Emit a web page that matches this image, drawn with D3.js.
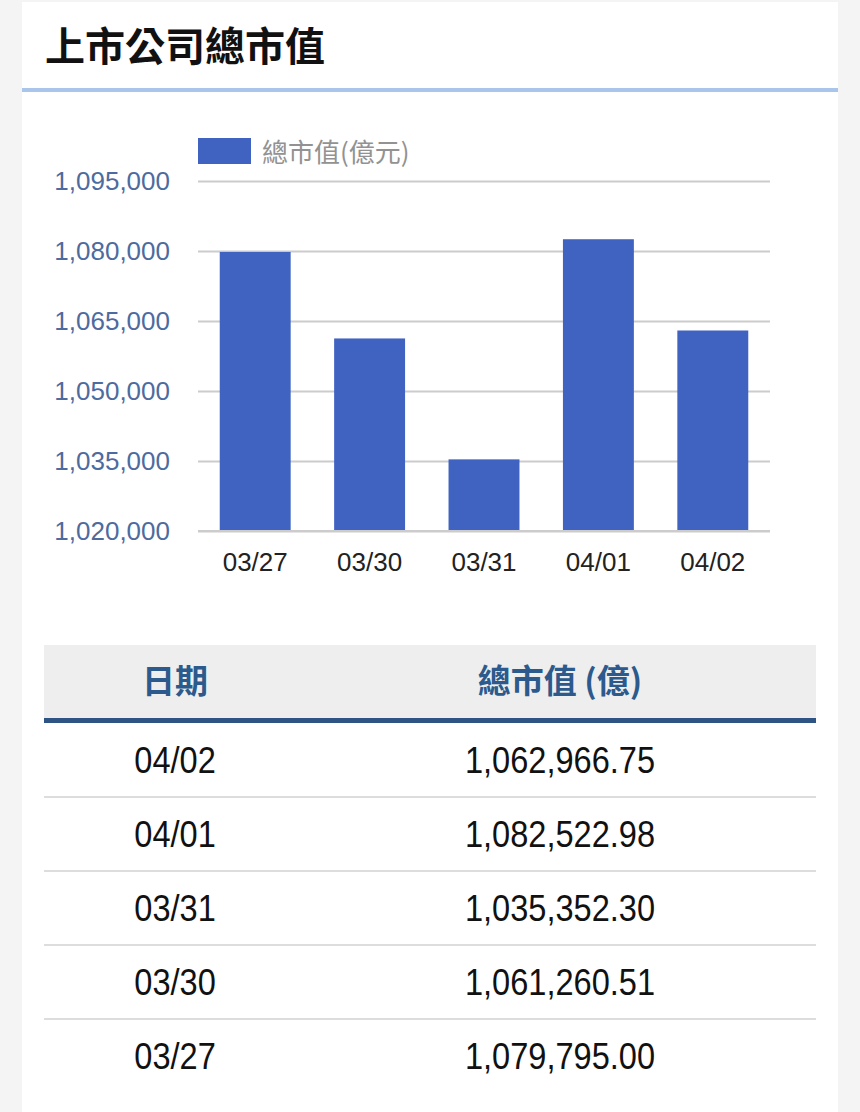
<!DOCTYPE html>
<html>
<head>
<meta charset="utf-8">
<script src="https://cdn.jsdelivr.net/npm/d3@7"></script>
<style>
  html, body { margin: 0; padding: 0; background: #f4f4f4; }
  svg { display: block; }
</style>
</head>
<body>
<svg id="chart"></svg>
<script>
// data
const dates = ['03/27', '03/30', '03/31', '04/01', '04/02']
const values = [1079795.00, 1061260.51, 1035352.30, 1082522.98, 1062966.75]
const yTicks = [1020000, 1035000, 1050000, 1065000, 1080000, 1095000]
const title = '上市公司總市值'
const seriesName = '總市值(億元)'
const tableHead = ['日期', '總市值 (億)']

const width = 860
const height = 1112
const barColor = '#4063c2'
const latin = '"Liberation Sans", Arial, sans-serif'
const cjk = '"Noto Sans CJK TC", "Noto Sans", sans-serif'

// set up svg container
const svg = d3.select('#chart')
    .attr('width', width)
    .attr('height', height)

// white card
svg.append('rect')
    .attr('x', 22).attr('y', 2)
    .attr('width', 816).attr('height', height)
    .attr('fill', '#fff')

svg.append('text')
    .attr('x', 45).attr('y', 61)
    .style('font-family', cjk)
    .style('font-weight', 700)
    .style('font-size', '40px')
    .attr('fill', '#111')
    .text(title)

svg.append('rect')
    .attr('x', 22).attr('y', 88)
    .attr('width', 816).attr('height', 4)
    .attr('fill', '#a9c5ea')

// set up chart
const x = d3.scaleBand()
    .domain(dates)
    .range([198, 770])
    .paddingInner(0.38)
    .paddingOuter(0.19)

const y = d3.scaleLinear()
    .domain([1020000, 1095000])
    .range([531, 181])

const yAxis = svg.append('g')
    .attr('transform', 'translate(198,0)')
    .call(d3.axisLeft(y).tickValues(yTicks).tickSize(-572).tickPadding(28).tickFormat(d3.format(',')))
yAxis.select('.domain').remove()
yAxis.selectAll('line').attr('stroke', '#cccccc').attr('stroke-width', 2)
yAxis.selectAll('text')
    .style('font-family', latin)
    .style('font-size', '26px')
    .attr('fill', '#4d6b9e')

svg.selectAll('.bar')
    .data(dates)
    .join('rect')
    .attr('class', 'bar')
    .attr('x', d => x(d))
    .attr('y', (d, i) => y(values[i]))
    .attr('width', x.bandwidth())
    .attr('height', (d, i) => y(1020000) - y(values[i]))
    .attr('fill', barColor)

// baseline drawn over the bars
svg.append('line')
    .attr('x1', 198).attr('x2', 770)
    .attr('y1', y(1020000)).attr('y2', y(1020000))
    .attr('stroke', '#cccccc').attr('stroke-width', 2)

const xAxis = svg.append('g')
    .attr('transform', `translate(0,${y(1020000)})`)
    .call(d3.axisBottom(x).tickSize(0).tickPadding(22))
xAxis.select('.domain').remove()
xAxis.selectAll('text')
    .style('font-family', latin)
    .style('font-size', '26px')
    .attr('fill', '#222')

// legend
svg.append('rect')
    .attr('x', 198).attr('y', 138)
    .attr('width', 53).attr('height', 26)
    .attr('fill', barColor)
svg.append('text')
    .attr('x', 262).attr('y', 162)
    .style('font-family', cjk)
    .style('font-size', '26px')
    .attr('fill', '#929292')
    .text(seriesName)

// table
const rows = dates.map((d, i) => ({ date: d, value: values[i] })).reverse()
const rowY = d3.scaleBand()
    .domain(rows.map(r => r.date))
    .range([723, 723 + 74 * rows.length])
const colX = [175, 560]
const fmt = d3.format(',.2f')

svg.append('rect')
    .attr('x', 44).attr('y', 645)
    .attr('width', 772).attr('height', 74)
    .attr('fill', '#eeeeee')

svg.selectAll('.head')
    .data(tableHead)
    .join('text')
    .attr('class', 'head')
    .attr('x', (d, i) => colX[i]).attr('y', 693)
    .attr('text-anchor', 'middle')
    .style('font-family', cjk)
    .style('font-weight', 700)
    .style('font-size', '33px')
    .attr('fill', '#2c5a8c')
    .text(d => d)

svg.append('rect')
    .attr('x', 44).attr('y', 718)
    .attr('width', 772).attr('height', 5)
    .attr('fill', '#2d5482')

const row = svg.selectAll('.row')
    .data(rows)
    .join('g')
    .attr('class', 'row')
    .attr('transform', d => `translate(0,${rowY(d.date)})`)

row.filter((d, i) => i < rows.length - 1)
    .append('rect')
    .attr('x', 44).attr('y', rowY.bandwidth() - 1)
    .attr('width', 772).attr('height', 2)
    .attr('fill', '#dddddd')

// the table numbers are a narrow face, squeeze Liberation Sans a bit
row.append('text')
    .attr('transform', `translate(${colX[0]},50) scale(0.88,1)`)
    .attr('text-anchor', 'middle')
    .style('font-family', latin)
    .style('font-size', '37px')
    .attr('fill', '#111')
    .text(d => d.date)

row.append('text')
    .attr('transform', `translate(${colX[1]},50) scale(0.88,1)`)
    .attr('text-anchor', 'middle')
    .style('font-family', latin)
    .style('font-size', '37px')
    .attr('fill', '#111')
    .text(d => fmt(d.value))
</script>
</body>
</html>
